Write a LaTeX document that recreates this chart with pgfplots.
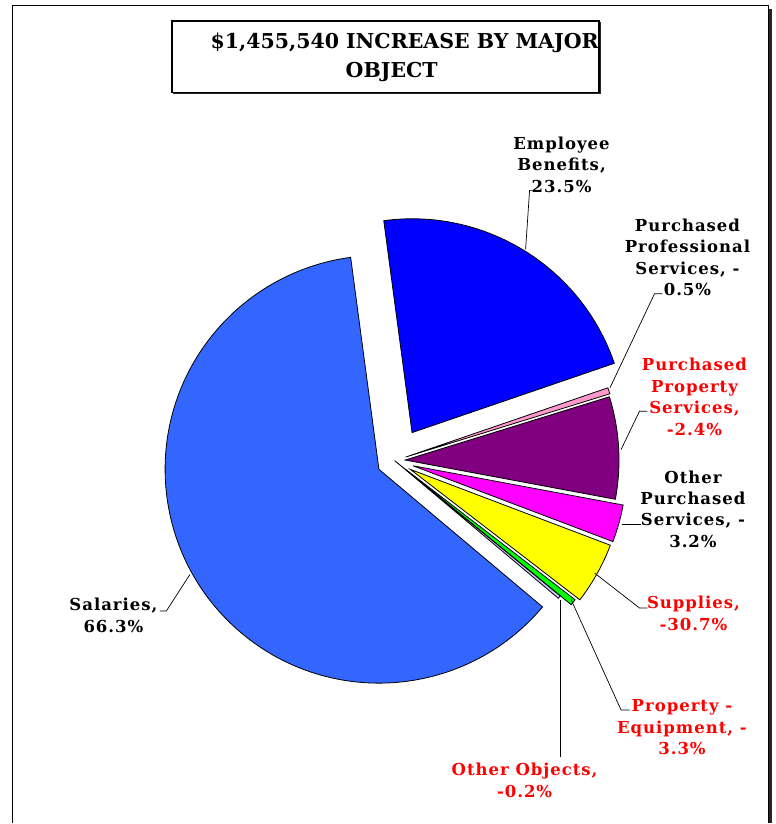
\documentclass[border=0pt]{standalone}
\usepackage{pgfplots}
\pgfplotsset{compat=1.18}
\usepackage{pgfplotstable}
\usepackage{fontspec}
\setmainfont{DejaVu Serif}
\newfontfamily\labelfont[LetterSpace=6]{DejaVu Serif}
\definecolor{salblue}{HTML}{3366FF}
\definecolor{ebblue}{HTML}{0000FF}
\definecolor{profpink}{HTML}{FF99CC}
\definecolor{proppurple}{HTML}{800080}
\definecolor{othmag}{HTML}{FF00FF}
\definecolor{supyellow}{HTML}{FFFF00}
\definecolor{eqgreen}{HTML}{00FF00}
\definecolor{objlav}{HTML}{CCCCFF}
\definecolor{lblred}{HTML}{FF0000}
\tikzset{lbl/.style={align=center, font=\labelfont\bfseries\fontsize{16.5}{21.5}\selectfont}}

% slice share (%), explosion (pt), colour -- clockwise from 97.6 deg
\pgfplotstableread{
value explode color
21.86 33   ebblue
0.47  11.5 profpink
7.72  10.5 proppurple
2.83  19   othmag
4.67  18   supyellow
0.47  14   eqgreen
0.22  0    objlav
61.76 18   salblue
}\piedata

\begin{document}
\begin{tikzpicture}
\begin{axis}[
  width=776pt, height=824pt, scale only axis,
  xmin=0, xmax=776, ymin=0, ymax=824, y dir=reverse,
  hide axis, clip=false,
]
\path (axis cs:0,0) rectangle (axis cs:776,824);
% outer frame with shadow
\fill[black!85] (axis cs:769,9) rectangle (axis cs:772.5,824);
\draw[line width=1.3pt] (axis cs:12.5,824) -- (axis cs:12.5,5.5) -- (axis cs:769,5.5) -- (axis cs:769,824);

% pie
\def\cum{97.6}
\pgfplotsforeachungrouped \i in {0,...,7}{%
  \pgfplotstablegetelem{\i}{value}\of\piedata \let\pv=\pgfplotsretval
  \pgfplotstablegetelem{\i}{explode}\of\piedata \let\pex=\pgfplotsretval
  \pgfplotstablegetelem{\i}{color}\of\piedata \let\pcol=\pgfplotsretval
  \pgfmathsetmacro\psa{\cum}%
  \pgfmathsetmacro\pea{\cum-3.6*\pv}%
  \pgfmathsetmacro\pmd{(\psa+\pea)/2}%
  \pgfmathsetmacro\pax{395+\pex*cos(\pmd)}%
  \pgfmathsetmacro\pay{461-\pex*sin(\pmd)}%
  \pgfmathsetmacro\pbx{\pax+214*cos(\psa)}%
  \pgfmathsetmacro\pby{\pay-214*sin(\psa)}%
  \edef\temp{\noexpand\draw[fill=\pcol, line width=0.8pt, line join=miter]
    (axis cs:\pax,\pay) -- (axis cs:\pbx,\pby)
    arc[start angle=\psa, end angle=\pea, radius=214pt] -- cycle;}%
  \temp
  \global\let\cum\pea
}

% leader lines
\draw[line width=0.7pt] (axis cs:533,190.5) -- (axis cs:530,190.5) -- (axis cs:526,249.5);
\draw[line width=0.7pt] (axis cs:663,294) -- (axis cs:655,294) -- (axis cs:610.5,388);
\draw[line width=0.7pt] (axis cs:648,411.5) -- (axis cs:640,411.5) -- (axis cs:621.5,450);
\draw[line width=0.7pt] (axis cs:641.5,525) -- (axis cs:622.5,525);
\draw[line width=0.7pt] (axis cs:648,608.5) -- (axis cs:640,608.5) -- (axis cs:595,573.5);
\draw[line width=0.7pt] (axis cs:630,710.5) -- (axis cs:621.5,710.5) -- (axis cs:571.5,600);
\draw[line width=0.7pt] (axis cs:560.7,758) -- (axis cs:560.7,600);
\draw[line width=0.7pt] (axis cs:160,611.5) -- (axis cs:166.5,611.5) -- (axis cs:190,575);

% labels
\node[lbl] at (axis cs:562,164.5) {Employee\\Benefits,\\23.5\%};
\node[lbl] at (axis cs:688,257.5) {Purchased\\Professional\\Services, -\\0.5\%};
\node[lbl, text=lblred] at (axis cs:695,397) {Purchased\\Property\\Services,\\-2.4\%};
\node[lbl] at (axis cs:693.5,509.5) {Other\\Purchased\\Services, -\\3.2\%};
\node[lbl, text=lblred] at (axis cs:694,614) {Supplies,\\-30.7\%};
\node[lbl, text=lblred] at (axis cs:682.5,728) {Property -\\Equipment, -\\3.3\%};
\node[lbl, text=lblred] at (axis cs:525,781) {Other Objects,\\-0.2\%};
\node[lbl] at (axis cs:113.5,616) {Salaries,\\66.3\%};

% title box
\fill[black!85] (axis cs:173.5,22.5) rectangle (axis cs:601,94.5);
\draw[line width=1.3pt, fill=white] (axis cs:172,21) rectangle (axis cs:599.5,92.5);
\node[anchor=base, font=\bfseries\fontsize{20.5}{24}\selectfont] at (axis cs:405,48.5) {\$1,455,540 INCREASE BY MAJOR};
\node[anchor=base, font=\bfseries\fontsize{20.5}{24}\selectfont] at (axis cs:392,78) {OBJECT};
\end{axis}
\end{tikzpicture}
\end{document}
